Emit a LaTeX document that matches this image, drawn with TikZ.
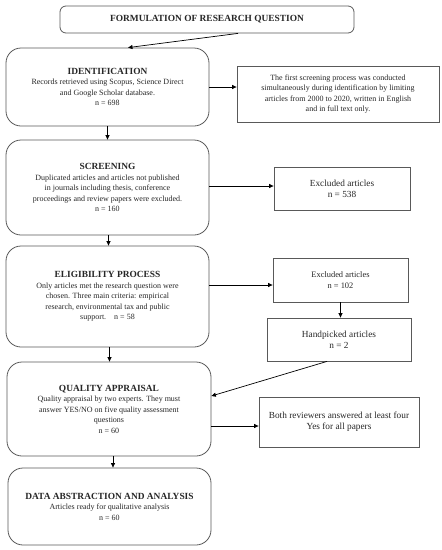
\documentclass[tikz,border=0pt]{standalone}
\usepackage{fontspec}
\setmainfont{Liberation Serif}
\usetikzlibrary{arrows.meta,calc}
\newcommand{\hd}[1]{{\fontsize{9.4}{11}\selectfont\textbf{#1}}}
\begin{document}
\begin{tikzpicture}[x=1pt,y=-1pt,
  base/.style={draw=black!65,line width=0.8pt,align=center,inner sep=1pt,
    text=black!85,font=\fontsize{8}{10.5}\selectfont},
  big/.style={font=\fontsize{9.3}{11}\selectfont},
  rbox/.style={base,rounded corners=15pt},
  tbox/.style={base,rounded corners=6pt},
  sbox/.style={base},
  arr/.style={-{Triangle[length=4.5pt,width=4pt]},line width=0.7pt,black}]
\useasboundingbox (0,0) rectangle (442,550);
\node[tbox,minimum width=294pt,minimum height=27pt] (top) at (207,19.5)
  {\hd{FORMULATION OF RESEARCH QUESTION}};
\node[rbox,minimum width=203pt,minimum height=78pt] (ident) at (107.5,87)
  {\hd{IDENTIFICATION}\\Records retrieved using Scopus, Science Direct\\and Google Scholar database.\\n = 698};
\node[sbox,minimum width=202pt,minimum height=56pt] (first) at (338,94)
  {The first screening process was conducted\\simultaneously during identification by limiting\\articles from 2000 to 2020, written in English\\and in full text only.};
\node[rbox,minimum width=203pt,minimum height=95pt] (screen) at (107.5,187.5)
  {\hd{SCREENING}\\Duplicated articles and articles not published\\in journals including thesis, conference\\proceedings and review papers were excluded.\\n = 160};
\node[sbox,big,minimum width=136pt,minimum height=43pt] (excla) at (342,188.5)
  {Excluded articles\\n = 538};
\node[rbox,minimum width=203pt,minimum height=101pt] (elig) at (107.5,296.5)
  {\hd{ELIGIBILITY PROCESS}\\Only articles met the research question were\\chosen. Three main criteria: empirical\\research, environmental tax and public\\support.\quad n = 58};
\node[sbox,minimum width=135pt,minimum height=44pt,font=\fontsize{8.4}{10.5}\selectfont] (exclb) at (340.5,280)
  {Excluded articles\\n = 102};
\node[sbox,big,minimum width=144pt,minimum height=43pt] (hand) at (339,339.5)
  {Handpicked articles\\n = 2};
\node[rbox,minimum width=204pt,minimum height=94pt] (qual) at (109,409)
  {\hd{QUALITY APPRAISAL}\\Quality appraisal by two experts. They must\\answer YES/NO on five quality assessment\\questions\\n = 60};
\node[sbox,big,minimum width=160pt,minimum height=50pt] (both) at (339,422)
  {Both reviewers answered at least four\\Yes for all papers};
\node[rbox,minimum width=203pt,minimum height=77pt] (data) at (109.5,506.5)
  {\hd{DATA ABSTRACTION AND ANALYSIS}\\Articles ready for qualitative analysis\\n = 60};
\draw[arr] ($(top.south)+(31,0)$) -- ($(ident.north)+(20.5,0)$);
\draw[arr] (ident.east) -- (ident.east -| first.west);
\draw[arr] (ident.south) -- (ident.south |- screen.north);
\draw[arr] ([yshift=1.5pt]screen.east) -- ([yshift=1.5pt]screen.east -| excla.west);
\draw[arr] ($(screen.south)+(1,0)$) -- ($(screen.south |- elig.north)+(1,0)$);
\draw[arr] ([yshift=-5pt]exclb.west -| elig.east) -- ([yshift=-5pt]exclb.west);
\draw[arr] ($(elig.south)+(2,0)$) -- ($(elig.south |- qual.north)+(2,0)$);
\draw[arr] (exclb.south) -- (exclb.south |- hand.north);
\draw[arr] ($(hand.south)+(-12,0)$) -- ([yshift=13pt]qual.east);
\draw[arr] ([yshift=-4pt]both.west -| qual.east) -- ([yshift=-4pt]both.west);
\draw[arr] ($(qual.south)+(4,0)$) -- ($(qual.south |- data.north)+(4,0)$);
\end{tikzpicture}
\end{document}
